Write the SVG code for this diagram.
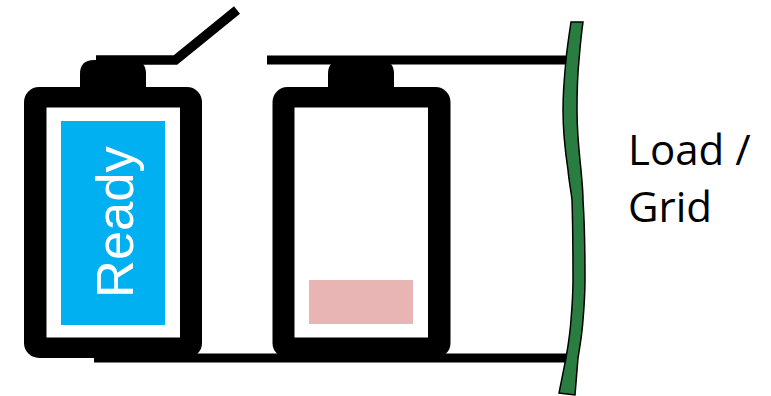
<svg xmlns="http://www.w3.org/2000/svg" width="771" height="396" viewBox="0 0 771 396">
<style>
.wire{fill:none;stroke:#000;stroke-width:9}
.cap{fill:#000}
.lbl{font-family:"Open Sans","Noto Sans",sans-serif;font-size:42px;fill:#000}
</style>
<rect width="771" height="396" fill="#fff"/>
<g id="connectors">
<path class="wire" d="M96 60H175.500L237 10" style="stroke-width:9.500"/>
<path class="wire" d="M267 60H572"/>
<path class="wire" d="M94 358H572"/>
</g>
<g id="battery-ready">
<path class="cap" d="M80 90V74Q80 60 94 60H132Q146 60 146 74V90Z"/>
<rect x="24" y="87" width="178" height="271" rx="15" fill="#000"/>
<rect x="46.500" y="107.500" width="133.500" height="230" fill="#fff"/>
<rect x="61" y="121" width="104" height="204" fill="#00b0f0"/>
<text transform="translate(133 298) rotate(-90)" font-family="'Liberation Sans',Arial,sans-serif" font-size="52.500" fill="#fff">Ready</text>
</g>
<g id="battery-low">
<path class="cap" d="M328 90V74Q328 60 342 60H380Q394 60 394 74V90Z"/>
<rect x="272.500" y="87" width="178" height="271" rx="15" fill="#000"/>
<rect x="294.500" y="107.500" width="133.500" height="230" fill="#fff"/>
<rect x="309" y="280" width="104" height="44" fill="#e9b5b4"/>
</g>
<g id="load-grid">
<path d="M571 22H583C581 36 580 48 579 60C577 80 577 95 577 110C577 135 579 150 581 170C582 182 583 190 583 200C585 230 585 260 585 280C585 295 584 308 583 320C582 335 580 346 578 358L575 395L559 393L566 358C568 346 570 335 571 320C572 308 573 295 573 280C573 260 573 230 572 200C571 190 569 182 568 170C565 150 563 135 563 110C563 95 564 80 566 60C567 48 569 36 571 22Z" fill="#2a7d40" stroke="#000" stroke-width="1.500"/>
<text class="lbl" x="628" y="165">Load /</text>
<text class="lbl" x="628" y="222">Grid</text>
</g>
</svg>
